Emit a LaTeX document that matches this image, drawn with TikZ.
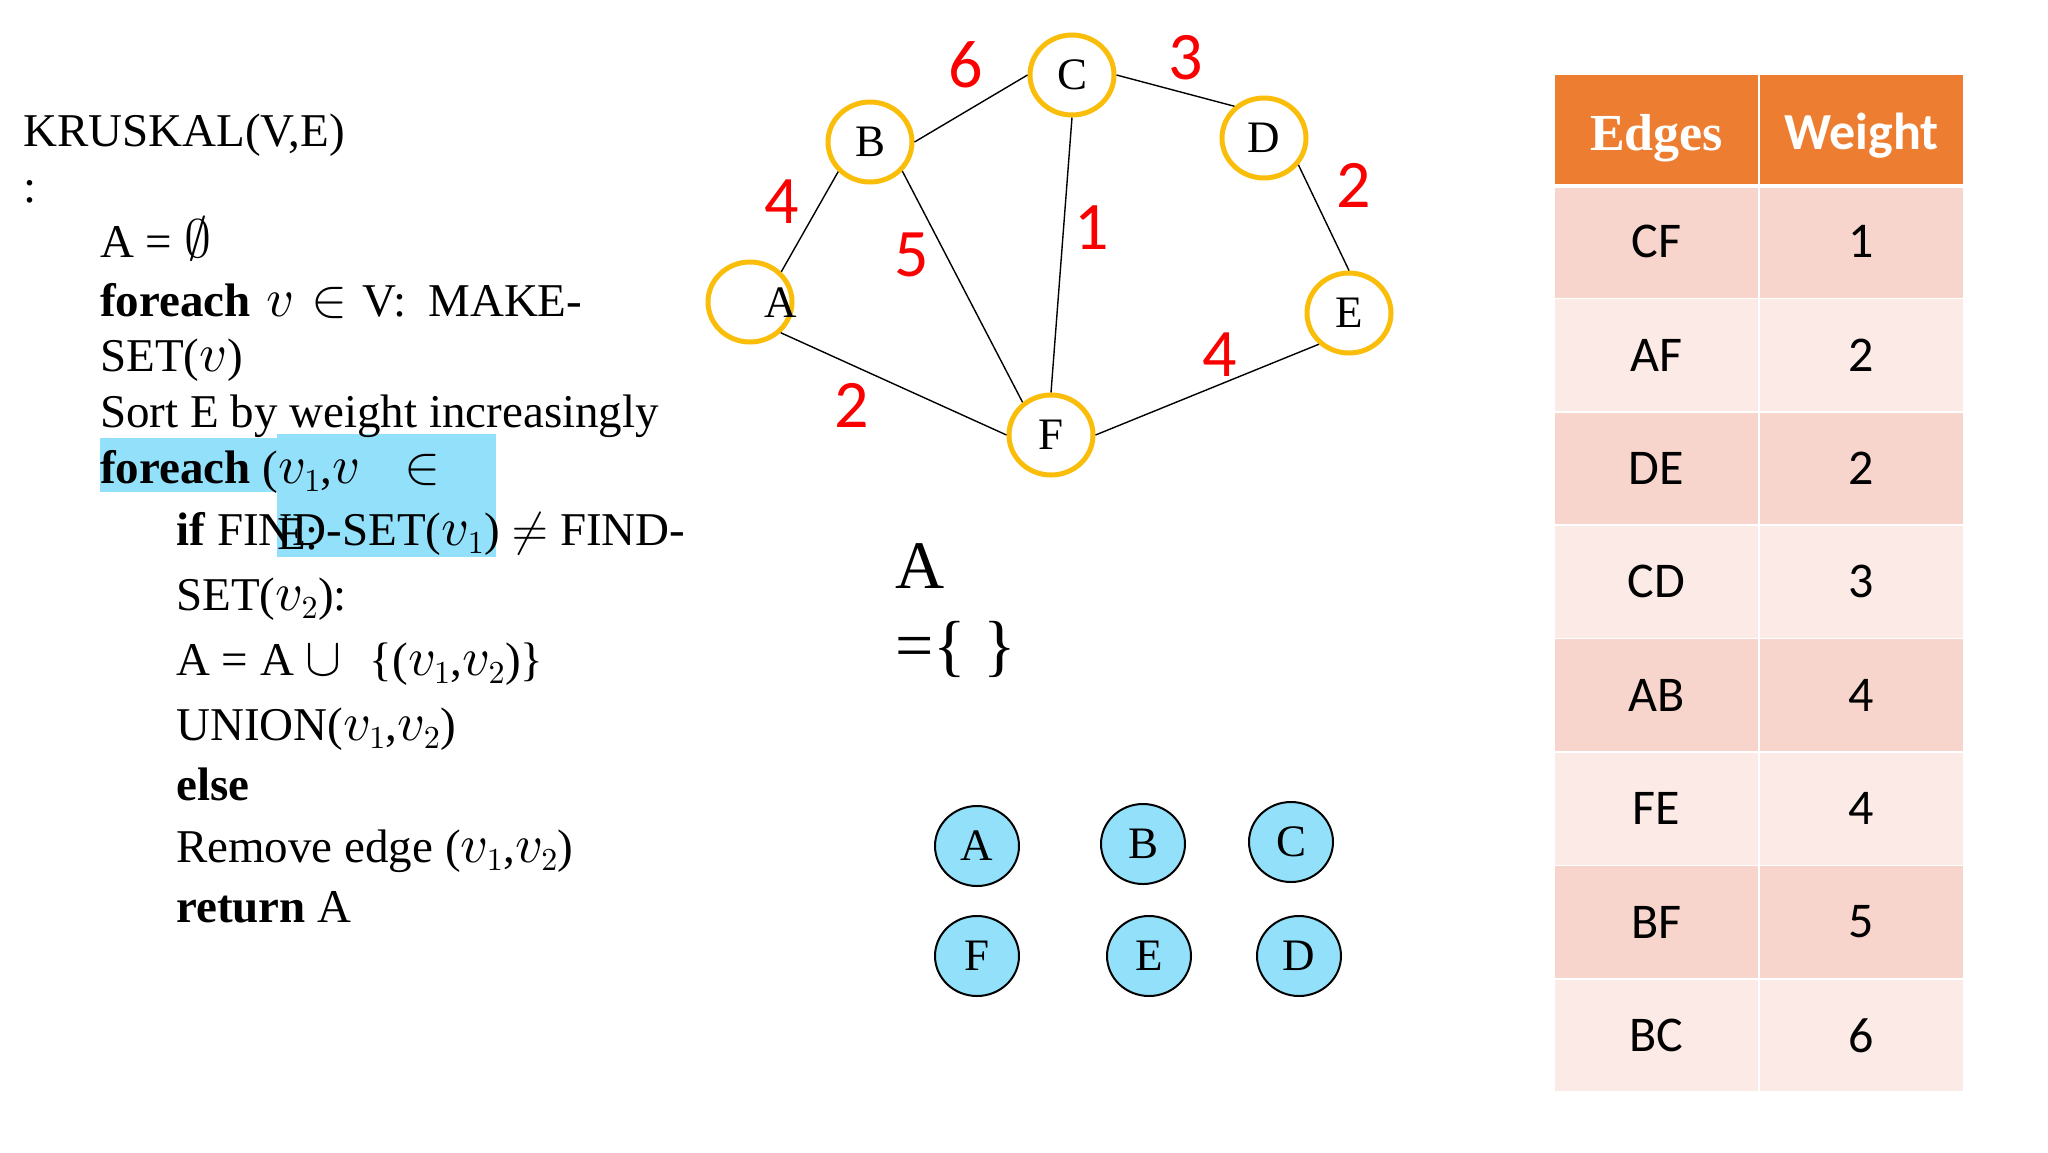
\documentclass[tikz,border=0pt]{standalone}
\usepackage{fontspec}
\setmainfont{Liberation Serif}
\newfontfamily\calfont{Carlito}
\DeclareFontShape{OML}{cmm}{m}{it}{<->cmmi10}{}
\DeclareFontShape{OMS}{cmsy}{m}{n}{<->cmsy10}{}
\DeclareFontShape{OMX}{cmex}{m}{n}{<->cmex10}{}
\DeclareFontShape{OT1}{cmr}{m}{n}{<->cmr10}{}
\DeclareMathSizes{54}{54}{32}{24}
\newcommand\mth[1]{{\fontsize{54}{50}\selectfont$#1$}}
\usetikzlibrary{shapes.geometric}
\definecolor{gold}{RGB}{250,190,10}
\definecolor{hlblue}{RGB}{146,224,250}
\definecolor{setblue}{RGB}{146,224,250}
\definecolor{hdrorange}{RGB}{237,125,49}
\definecolor{rowdark}{RGB}{247,212,204}
\definecolor{rowlight}{RGB}{251,234,230}
\definecolor{wred}{RGB}{250,0,0}
\tikzset{
  code/.style={anchor=base west, inner sep=0pt, font=\fontsize{47}{50}\selectfont},
  gnode/.style={ellipse, draw=gold, line width=5pt, minimum width=84pt, minimum height=80pt, inner sep=0pt, font=\fontsize{45}{45}\selectfont},
  snode/.style={ellipse, draw=black, line width=2pt, fill=setblue, minimum width=84pt, minimum height=80pt, inner sep=0pt, font=\fontsize{45}{45}\selectfont},
  gedge/.style={draw=black, line width=1.4pt},
  wlab/.style={inner sep=0pt, text=wred, font=\calfont\fontsize{68}{68}\selectfont},
  cell/.style={rectangle, draw=white, line width=1.5pt, minimum width=205pt, minimum height=113.4pt, inner sep=0pt, font=\calfont\fontsize{50}{50}\selectfont},
  hcell/.style={rectangle, draw=white, line width=1.5pt, fill=hdrorange, minimum width=205pt, minimum height=111pt, inner sep=0pt},
}
\begin{document}
\begin{tikzpicture}[x=1pt,y=-1pt]
\useasboundingbox (0,0) rectangle (2048,1152);
\fill[white] (0,0) rectangle (2048,1152);

% highlight
\fill[hlblue] (100,438) rectangle (496,492);
\fill[hlblue] (277,434) rectangle (496,557);

% pseudocode
\node[code] (l1) at (23,146) {KRUSKAL(V,E)};
\node[code] (l2) at (23,202) {:};
\node[code] (l3) at (100,257) {A = \mth{\emptyset}};
\node[code] (l4) at (100,316) {\textbf{foreach}\hspace{16pt}\mth{v}\hspace{17pt}\mth{\in}\hspace{15pt}V:\hspace{22pt}MAKE-};
\node[code] (l5) at (100,371) {SET(\mth{v})};
\node[code] (l6) at (100,427) {Sort E by weight increasingly};
\node[code] (l7) at (100,483) {\textbf{foreach} (\mth{v_1},\mth{v}\hspace{44pt}\mth{\in}};
\node[code] (l8) at (176,545) {\textbf{if} FIND-SET(\mth{v_1}) $\neq$ FIND-};
\node[code] (lE) at (277,549) {E:};
\node[code] (l9) at (176,610) {SET(\mth{v_2}):};
\node[code] (l10) at (176,675) {A = A \mth{\cup}\hspace{28pt}\{(\mth{v_1},\mth{v_2})\}};
\node[code] (l11) at (176,740) {UNION(\mth{v_1},\mth{v_2})};
\node[code] (l12) at (176,800) {\textbf{else}};
\node[code] (l13) at (176,862) {Remove edge (\mth{v_1},\mth{v_2})};
\node[code] (l14) at (176,922) {\textbf{return} A};

% graph
\node[gnode] (A) at (750,302) {};
\node[inner sep=0pt, font=\fontsize{45}{45}\selectfont] (Alab) at (781,303) {A};
\node[gnode] (B) at (870,142) {B};
\node[gnode] (C) at (1072,75) {C};
\node[gnode] (D) at (1264,138) {D};
\node[gnode] (E) at (1349,313) {E};
\node[gnode] (F) at (1051,435) {F};

\draw[gedge] (A.44) -- (B.223);
\draw[gedge] (A.-45) -- (F.west);
\draw[gedge] (B.east) -- (C.west);
\draw[gedge] (B.-42) -- (F.131);
\draw[gedge] (C.south) -- (F.north);
\draw[gedge] (C.east) -- (D.133);
\draw[gedge] (D.-38) -- (E.north);
\draw[gedge] (F.east) -- (E.226);

\node[wlab] (w6) at (966,65) {6};
\node[wlab] (w3) at (1186,58) {3};
\node[wlab] (w4a) at (782,202) {4};
\node[wlab] (w5) at (912,255) {5};
\node[wlab] (w1) at (1092,228) {1};
\node[wlab] (w2a) at (1354,185) {2};
\node[wlab] (w4b) at (1220,355) {4};
\node[wlab] (w2b) at (852,405) {2};

% A = { }
\node[anchor=base west, inner sep=0pt, font=\fontsize{68}{68}\selectfont] (setA) at (895,588) {A};
\node[anchor=base west, inner sep=0pt, font=\fontsize{68}{68}\selectfont] (setEq) at (895,668) {=\{ \}};

% disjoint set nodes
\node[snode] (sA) at (977,846) {A};
\node[snode] (sB) at (1143,844) {B};
\node[snode] (sC) at (1291,842) {C};
\node[snode] (sF) at (977,956) {F};
\node[snode] (sE) at (1149,956) {E};
\node[snode] (sD) at (1299,956) {D};

% table
\node[hcell] (h1) at (1656.5,129.5) {};
\node[hcell] (h2) at (1861.5,129.5) {};
\node[anchor=base, inner sep=0pt, text=white, font=\bfseries\fontsize{52}{52}\selectfont] (h1t) at (1656.5,150) {Edges};
\node[anchor=base, inner sep=0pt, text=white, font=\calfont\bfseries\fontsize{52}{52}\selectfont] (h2t) at (1861.5,149) {Weight};
\foreach \e/\w [count=\i from 0] in {CF/1,AF/2,DE/2,CD/3,AB/4,FE/4,BF/5,BC/6}{
  \pgfmathsetmacro{\yc}{185+113.4*\i+56.7}
  \pgfmathtruncatemacro{\odd}{mod(\i,2)}
  \ifnum\odd=0 \def\rc{rowdark}\else\def\rc{rowlight}\fi
  \node[cell, fill=\rc] (e\i) at (1656.5,\yc) {\e};
  \node[cell, fill=\rc] (w\i) at (1861.5,\yc) {\w};
}
\draw[white, line width=3.5pt] (h1.south west) -- (h2.south east);
\end{tikzpicture}
\end{document}
